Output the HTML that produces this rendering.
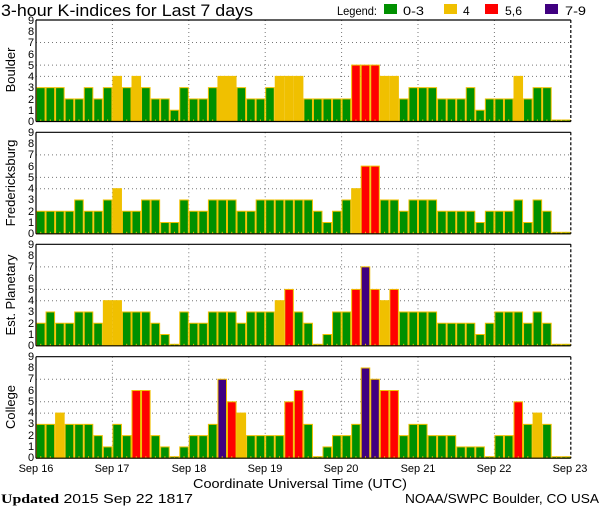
<!DOCTYPE html>
<html><head><meta charset="utf-8"><style>
html,body{margin:0;padding:0;background:#fff;width:600px;height:510px;overflow:hidden}
svg{display:block;font-family:"Liberation Sans",sans-serif}
</style></head><body>
<svg id="s" width="600" height="510" xmlns="http://www.w3.org/2000/svg">
<text x="1" y="16" font-size="16.5" textLength="252" lengthAdjust="spacingAndGlyphs">3-hour K-indices for Last 7 days</text>
<text x="337" y="15" font-size="12" textLength="40" lengthAdjust="spacingAndGlyphs">Legend:</text>
<rect x="384" y="4" width="13" height="10" fill="#009000"/><text x="403" y="15" font-size="12" textLength="21" lengthAdjust="spacingAndGlyphs">0-3</text>
<rect x="444" y="4" width="13" height="10" fill="#f0c000"/><text x="463" y="15" font-size="12">4</text>
<rect x="485" y="4" width="13" height="10" fill="#ff0000"/><text x="505" y="15" font-size="12" textLength="17" lengthAdjust="spacingAndGlyphs">5,6</text>
<rect x="545" y="4" width="13" height="10" fill="#400080"/><text x="565" y="15" font-size="12" textLength="21" lengthAdjust="spacingAndGlyphs">7-9</text>
<text x="15" y="70" font-size="13" transform="rotate(-90 15 70)" text-anchor="middle">Boulder</text>
<text x="15" y="183" font-size="13" transform="rotate(-90 15 183)" text-anchor="middle">Fredericksburg</text>
<text x="15" y="295" font-size="13" transform="rotate(-90 15 295)" text-anchor="middle">Est. Planetary</text>
<text x="15" y="407" font-size="13" transform="rotate(-90 15 407)" text-anchor="middle">College</text>
<g font-size="11" text-anchor="middle">
<text x="36" y="472">Sep 16</text><text x="112" y="472">Sep 17</text><text x="189" y="472">Sep 18</text><text x="265" y="472">Sep 19</text><text x="341" y="472">Sep 20</text><text x="418" y="472">Sep 21</text><text x="494" y="472">Sep 22</text><text x="570" y="472">Sep 23</text>
</g>
<text x="193" y="488" font-size="13" textLength="214" lengthAdjust="spacingAndGlyphs">Coordinate Universal Time (UTC)</text>
<text x="1" y="503" font-size="13" textLength="192" lengthAdjust="spacingAndGlyphs"><tspan font-family="Liberation Serif" font-weight="bold">Updated</tspan> 2015 Sep 22 1817</text>
<text x="405" y="503" font-size="13" textLength="194" lengthAdjust="spacingAndGlyphs">NOAA/SWPC Boulder, CO USA</text>
<g id="ticks" font-size="11" text-anchor="middle">
<text x="31" y="125">0</text><text x="31" y="114">1</text><text x="31" y="103">2</text><text x="31" y="91">3</text><text x="31" y="80">4</text><text x="31" y="69">5</text><text x="31" y="58">6</text><text x="31" y="46">7</text><text x="31" y="35">8</text><text x="31" y="24">9</text>
<text x="31" y="237">0</text><text x="31" y="226">1</text><text x="31" y="215">2</text><text x="31" y="203">3</text><text x="31" y="192">4</text><text x="31" y="181">5</text><text x="31" y="170">6</text><text x="31" y="158">7</text><text x="31" y="147">8</text><text x="31" y="136">9</text>
<text x="31" y="349">0</text><text x="31" y="338">1</text><text x="31" y="327">2</text><text x="31" y="315">3</text><text x="31" y="304">4</text><text x="31" y="293">5</text><text x="31" y="282">6</text><text x="31" y="270">7</text><text x="31" y="259">8</text><text x="31" y="248">9</text>
<text x="31" y="461">0</text><text x="31" y="450">1</text><text x="31" y="439">2</text><text x="31" y="427">3</text><text x="31" y="416">4</text><text x="31" y="405">5</text><text x="31" y="394">6</text><text x="31" y="382">7</text><text x="31" y="371">8</text><text x="31" y="360">9</text>
</g>
<g id="plots"></g>
</svg>
<script>
var D=[
[3,3,3,2,2,3,2,3,4,3,4,3,2,2,1,3,2,2,3,4,4,3,2,2,3,4,4,4,2,2,2,2,2,5,5,5,4,4,2,3,3,3,2,2,2,3,1,2,2,2,4,2,3,3,0,0],
[2,2,2,2,3,2,2,3,4,2,2,3,3,1,1,3,2,2,3,3,3,2,2,3,3,3,3,3,3,2,1,2,3,4,6,6,3,3,2,3,3,3,2,2,2,2,1,2,2,2,3,1,3,2,0,0],
[2,3,2,2,3,3,2,4,4,3,3,3,2,1,0,3,2,2,3,3,3,2,3,3,3,4,5,3,2,0,1,3,3,5,7,5,4,5,3,3,3,3,2,2,2,2,1,2,3,3,3,2,3,2,0,0],
[3,3,4,3,3,3,2,1,3,2,6,6,2,1,0,1,2,2,3,7,5,4,2,2,2,2,5,6,3,0,1,2,2,3,8,7,6,6,2,3,3,2,2,2,1,1,1,0,2,2,5,3,4,3,0,0]];
var tops=[20,132.3,244.3,356.7],H=101.5,L=36,R=570.8,bw=(R-L)/56,u=H/9;
var g=document.getElementById('plots'),h='';
function col(v){return v<=3?'#009000':v==4?'#f0c000':v<=6?'#ff0000':'#400080';}
for(var p=0;p<4;p++){var t=tops[p],b=t+H;
 [4,5,7].forEach(function(k){var y=b-k*u;h+='<line x1="'+L+'" x2="'+R+'" y1="'+y+'" y2="'+y+'" stroke="#777" stroke-dasharray="1,3"/>';});
 for(var d=1;d<7;d++){var x=L+d*8*bw;h+='<line x1="'+x+'" x2="'+x+'" y1="'+t+'" y2="'+b+'" stroke="#777" stroke-dasharray="1,3"/>';}
 for(var i=0;i<56;i++){var v=D[p][i],hh=v==0?1.5:v*u,x=L+i*bw;
  h+='<rect x="'+(x+0.5)+'" y="'+(b-hh)+'" width="'+(bw-1)+'" height="'+hh+'" fill="'+col(v)+'" stroke="#f0c000" stroke-width="1"/>';
  h+='<rect x="'+(x+bw/2-0.5)+'" y="'+(b-2)+'" width="1" height="2" fill="#f0c000"/>';}
 h+='<line x1="'+L+'" x2="'+R+'" y1="'+t+'" y2="'+t+'" stroke="#000" stroke-width="1.2"/>';
 h+='<line x1="'+L+'" x2="'+R+'" y1="'+b+'" y2="'+b+'" stroke="#000" stroke-width="1.2"/>';
 h+='<line x1="'+L+'" x2="'+L+'" y1="'+t+'" y2="'+b+'" stroke="#000" stroke-width="1.2"/>';
 h+='<line x1="'+R+'" x2="'+R+'" y1="'+t+'" y2="'+b+'" stroke="#000" stroke-width="1.2" stroke-dasharray="3,2"/>';
}
g.innerHTML=h;
</script>
</body></html>
